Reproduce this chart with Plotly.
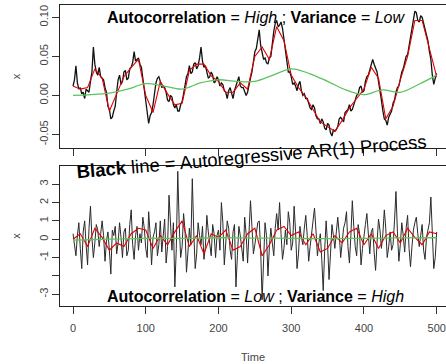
import plotly.graph_objects as go

# ---------------- data ----------------
t_black = list(range(0, 501, 2))
t_red = list(range(0, 501, 10))
t_green_top = list(range(0, 501, 25))
t_green_bot = list(range(0, 501, 50))

top_black = [
    0.012, 0.020, 0.038, 0.016, 0.008, 0.010, 0.002, 0.004, -0.004, 0.008, 0.006, 0.004, 0.018, 0.030, 0.062, 0.040, 0.030, 0.026, 0.036, 0.024,
    0.022, 0.020, 0.010, 0.004, -0.014, -0.018, -0.030, -0.028, -0.020, -0.014, 0.004, 0.020, 0.026, 0.014, 0.018, 0.030, 0.032, 0.020, 0.022, 0.034,
    0.036, 0.042, 0.056, 0.044, 0.046, 0.048, 0.040, 0.036, 0.022, 0.008, -0.004, -0.024, -0.036, -0.026, -0.022, -0.012, 0.004, 0.016, 0.022, 0.024,
    0.018, 0.010, 0.012, 0.010, 0.004, -0.006, -0.008, 0.000, -0.002, -0.012, -0.016, -0.012, -0.020, -0.020, -0.012, -0.008, 0.002, 0.016, 0.024, 0.028,
    0.038, 0.028, 0.030, 0.040, 0.042, 0.034, 0.038, 0.048, 0.062, 0.044, 0.036, 0.038, 0.030, 0.022, 0.024, 0.030, 0.026, 0.016, 0.018, 0.024,
    0.020, 0.012, 0.016, 0.014, 0.006, 0.004, -0.004, 0.006, 0.010, 0.002, -0.004, 0.006, 0.012, 0.020, 0.024, 0.012, 0.010, 0.010, 0.006, 0.000,
    0.004, 0.016, 0.022, 0.030, 0.046, 0.056, 0.060, 0.074, 0.084, 0.064, 0.056, 0.046, 0.048, 0.042, 0.040, 0.048, 0.050, 0.068, 0.082, 0.092,
    0.096, 0.088, 0.090, 0.094, 0.086, 0.072, 0.060, 0.042, 0.030, 0.030, 0.024, 0.014, 0.016, 0.012, 0.006, 0.014, 0.018, 0.006, 0.000, 0.002,
    -0.004, -0.004, -0.010, -0.016, -0.018, -0.012, -0.016, -0.026, -0.030, -0.030, -0.036, -0.030, -0.034, -0.042, -0.044, -0.036, -0.038, -0.048, -0.052, -0.044,
    -0.046, -0.044, -0.040, -0.030, -0.028, -0.032, -0.034, -0.022, -0.020, -0.018, -0.012, -0.020, -0.018, -0.010, -0.006, 0.000, 0.002, 0.010, 0.012, 0.004,
    0.006, 0.018, 0.024, 0.026, 0.034, 0.042, 0.046, 0.040, 0.036, 0.030, 0.018, 0.008, -0.006, -0.020, -0.030, -0.032, -0.038, -0.028, -0.024, -0.020,
    -0.010, -0.006, 0.004, 0.010, 0.012, 0.024, 0.030, 0.034, 0.044, 0.050, 0.052, 0.064, 0.072, 0.088, 0.098, 0.108, 0.106, 0.096, 0.094, 0.102,
    0.100, 0.092, 0.088, 0.080, 0.070, 0.056, 0.046, 0.026, 0.014, 0.022, 0.028,
]

top_red = [0.012, 0.008, 0.010, 0.034, 0.022, -0.020, 0.002, 0.024, 0.036, 0.046,
           0.000, -0.022, 0.018, 0.002, -0.012, -0.010, 0.032, 0.040, 0.040, 0.025,
           0.018, 0.004, 0.004, 0.016, 0.008, 0.050, 0.062, 0.046, 0.088, 0.070,
           0.026, 0.010, -0.002, -0.018, -0.034, -0.040, -0.046, -0.032, -0.016, -0.004,
           0.008, 0.036, 0.022, -0.030, -0.014, 0.020, 0.050, 0.096, 0.096, 0.060, 0.024]

top_green = [0.000, 0.001, 0.003, 0.008, 0.015, 0.012, 0.008, 0.016, 0.020, 0.018,
             0.018, 0.026, 0.034, 0.028, 0.018, 0.007, 0.001, 0.007, 0.004, 0.014, 0.026]

bot_black = [
    0.3, -0.4, -0.9, 0.2, 0.9, -0.5, -1.6, 0.4, 1.0, -0.3, -1.4, 0.6, 1.8, 0.1, -1.0, -0.2, 0.8, 0.5, -0.4, 0.3,
    1.0, 0.2, -1.2, -0.1, 0.4, -0.6, -1.9, 0.5, 0.2, 0.7, -0.8, -0.2, 0.9, 0.1, -1.0, 0.4, 0.6, -0.9, -0.6, 0.8,
    1.6, -0.3, -1.1, 0.2, 0.7, -0.6, 0.3, -0.2, 1.2, 0.6, -0.5, -1.0, 1.5, 0.3, -1.4, 0.1, 0.4, 0.9, -0.9, -0.3,
    1.0, -0.7, 0.2, 1.1, -1.3, -0.4, 2.4, 0.6, -0.6, 0.9, -2.6, -0.5, 3.7, 0.8, -1.0, -0.4, 1.4, 0.5, -1.8, -0.7,
    0.6, -0.3, 3.3, 0.4, -1.6, -0.8, 0.9, 0.2, -0.3, 0.7, -1.1, -0.4, 1.3, 0.4, -0.2, -0.9, 0.8, 0.3, -1.0, 0.2,
    0.5, -0.6, 2.0, 0.9, -1.4, -0.3, 1.0, 0.6, -0.6, -1.1, 0.4, 0.8, -2.6, -0.9, 0.7, 0.2, -0.4, -1.2, 1.2, 0.3,
    -1.3, 0.4, 2.1, 0.7, -0.8, -0.3, 0.3, 0.9, 1.0, -0.6, -3.3, -1.0, 0.9, 0.2, -2.0, -0.4, 0.6, -0.2, -0.9, 0.6,
    1.4, 0.5, 2.0, 0.3, -1.1, -0.5, 0.5, -0.3, 1.5, 0.9, -0.6, -0.2, 1.8, 0.4, -1.6, -0.8, 0.7, 0.1, -0.3, 0.6,
    1.3, 0.2, -1.2, -0.4, 0.4, 0.9, 1.7, 0.5, -0.9, -0.2, 0.3, -1.1, -2.8, -0.6, 1.0, -0.3, -2.2, -0.8, 0.8, 0.2,
    -0.5, 0.4, 1.2, 0.3, -1.0, -0.2, 0.6, 0.9, 1.5, -0.4, -1.3, 0.2, 2.1, 0.7, -0.4, -0.9, 0.8, 0.3, -1.4, -0.5,
    0.3, 0.8, 1.4, 0.2, -0.8, 0.4, 0.6, -0.7, -1.7, -0.2, 1.1, 0.5, -0.5, 0.3, 1.6, 0.6, -1.0, -0.4, 0.4, -0.6,
    -0.3, 1.0, 2.6, 0.4, -1.2, -0.3, 0.9, 0.2, -0.7, 0.6, 1.3, -0.5, -1.5, -0.4, 0.5, 0.9, 1.2, 0.3, -0.4, 0.2,
    0.8, -0.6, -1.1, 0.1, 0.6, 0.9, 2.3, 0.2, -1.6, -1.0, 0.4,
]

bot_red = [0.0, 0.3, -0.4, 0.6, 0.1, -0.6, -0.2, -0.4, 0.3, 0.6,
           0.5, -0.5, 0.2, -0.3, 0.4, 1.0, -0.4, 0.2, -0.8, 0.3,
           0.1, 0.5, -0.6, -0.4, 0.3, 0.6, -0.9, -0.3, 0.5, 0.7,
           0.2, 0.4, -0.3, 0.3, -0.7, -0.5, 0.2, -0.2, 0.4, 0.6,
           -0.3, 0.3, -0.5, 0.2, 0.4, -0.2, 0.6, 0.1, -0.3, 0.4, 0.3]

bot_green = [-0.05, 0.0, 0.05, 0.05, 0.08, 0.06, 0.05, 0.03, 0.05, 0.07, 0.08]

x_ticks = [0, 100, 200, 300, 400, 500]
top_yticks = [-0.05, 0.00, 0.05, 0.10]
top_yticktext = ["-0.05", "0.00", "0.05", "0.10"]
bot_yticks = [-3, -2, -1, 0, 1, 2, 3]
bot_yticktext = ["-3", "", "-1", "0", "1", "2", "3"]

# ---------------- figure ----------------
BLACK = "#111111"
RED = "#e00000"
GREEN = "#5cc45c"

fig = go.Figure()
fig.add_trace(go.Scatter(x=t_black, y=top_black, mode="lines",
                         line=dict(color=BLACK, width=1.3), xaxis="x", yaxis="y"))
fig.add_trace(go.Scatter(x=t_red, y=top_red, mode="lines",
                         line=dict(color=RED, width=1.1), xaxis="x", yaxis="y"))
fig.add_trace(go.Scatter(x=t_green_top, y=top_green, mode="lines", line_shape="spline",
                         line=dict(color=GREEN, width=1.3), xaxis="x", yaxis="y"))
fig.add_trace(go.Scatter(x=t_black, y=bot_black, mode="lines",
                         line=dict(color="#2a2a2a", width=1), xaxis="x2", yaxis="y2"))
fig.add_trace(go.Scatter(x=t_red, y=bot_red, mode="lines",
                         line=dict(color=RED, width=1.1), xaxis="x2", yaxis="y2"))
fig.add_trace(go.Scatter(x=t_green_bot, y=bot_green, mode="lines", line_shape="spline",
                         line=dict(color=GREEN, width=1.3), xaxis="x2", yaxis="y2"))

font = "Liberation Sans, Arial, sans-serif"
tickfont = dict(family=font, size=11, color="#444444")
xr = [-17.9, 512.8]

common_x = dict(range=xr, tickvals=x_ticks, ticks="outside", ticklen=7, tickcolor="#333",
                showline=True, linecolor="#222", linewidth=1, mirror=True,
                showgrid=False, zeroline=False, tickfont=tickfont)
common_y = dict(ticks="outside", ticklen=7, tickcolor="#333", tickangle=-90,
                showline=True, linecolor="#222", linewidth=1, mirror=False,
                showgrid=False, zeroline=False, tickfont=tickfont)

fig.update_layout(
    width=446, height=364,
    margin=dict(l=60, r=0, t=5, b=58),
    paper_bgcolor="white", plot_bgcolor="white",
    showlegend=False,
    xaxis=dict(common_x, domain=[0, 1], anchor="y", showticklabels=False),
    yaxis=dict(common_y, domain=[0.5254, 1.0], anchor="x", range=[-0.0672, 0.1158],
               tickvals=top_yticks, ticktext=top_yticktext,
               title=dict(text="x", font=dict(family=font, size=11, color="#444"), standoff=14)),
    xaxis2=dict(common_x, domain=[0, 1], anchor="y2", ticklabelstandoff=5,
                title=dict(text="Time", font=dict(family=font, size=11, color="#444"), standoff=20)),
    yaxis2=dict(common_y, domain=[0.0, 0.4656], anchor="x2", range=[-3.64, 4.0],
                tickvals=bot_yticks, ticktext=bot_yticktext,
                title=dict(text="x", font=dict(family=font, size=11, color="#444"), standoff=14)),
)

fig.add_annotation(xref="paper", yref="paper", x=0.508, y=0.960, yanchor="middle",
                   text="<b>Autocorrelation</b> = <i>High</i> ; <b>Variance</b> = <i>Low</i>",
                   showarrow=False, font=dict(family=font, size=16, color="black"))
fig.add_annotation(xref="paper", yref="paper", x=0.506, y=0.030, yanchor="middle",
                   text="<b>Autocorrelation</b> = <i>Low</i> ; <b>Variance</b> = <i>High</i>",
                   showarrow=False, font=dict(family=font, size=16, color="black"))
fig.add_annotation(xref="paper", yref="paper", x=0.496, y=0.496, yanchor="middle",
                   text="<b>Black</b> line = Autoregressive AR(1) Process",
                   textangle=-5, showarrow=False,
                   font=dict(family=font, size=18.5, color="black"))

fig.write_html("out.html")
